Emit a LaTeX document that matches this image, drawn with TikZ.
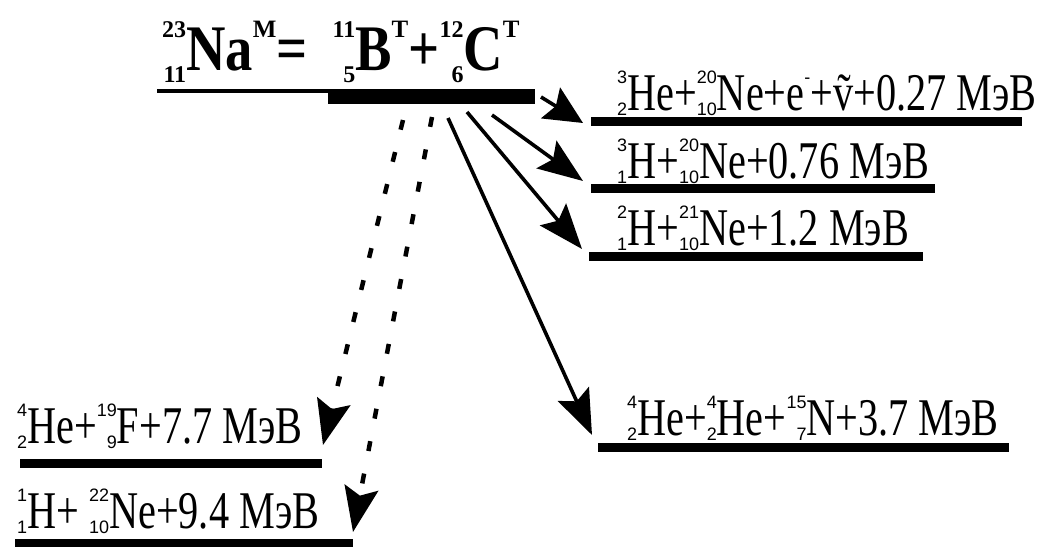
\documentclass[tikz,border=0pt]{standalone}
\usepackage{fontspec}
\setmainfont{Liberation Serif}
\newfontfamily\lvlfont[FakeStretch=0.76]{Liberation Serif}
\newfontfamily\ttlfont[FakeStretch=0.84]{Liberation Serif}
\newfontfamily\tscrfont{Liberation Serif}
\newfontfamily\scrfont{Liberation Sans}
\usetikzlibrary{arrows.meta}

\newcommand\nuc[3]{{\setbox1\hbox{\scrfont\fontsize{18}{18}\selectfont #1}%
 \setbox2\hbox{\scrfont\fontsize{18}{18}\selectfont #2}%
 \ifdim\wd1>\wd2\relax \setbox2\hbox to\wd1{\hfil\unhbox2}\else\setbox1\hbox to\wd2{\hfil\unhbox1}\fi
 \rlap{\raise27pt\box1}\lower5pt\box2}#3}
\newcommand\esup[1]{\raise27pt\hbox{\scrfont\fontsize{18}{18}\selectfont #1}}
\newcommand\tnuc[3]{{\setbox1\hbox{\tscrfont\bfseries\fontsize{24}{24}\selectfont #1}%
 \setbox2\hbox{\tscrfont\bfseries\fontsize{24}{24}\selectfont #2}%
 \ifdim\wd1>\wd2\relax \setbox2\hbox to\wd1{\hfil\unhbox2}\else\setbox1\hbox to\wd2{\hfil\unhbox1}\fi
 \rlap{\raise33pt\box1}\lower12pt\box2}#3}
\newcommand\tsup[1]{\raise33pt\hbox{\tscrfont\bfseries\fontsize{25}{25}\selectfont #1}}

\tikzset{
  bar/.style={rectangle, fill=black, draw=none, inner sep=0pt, outer sep=0pt, minimum height=9pt},
  lvltext/.style={anchor=base west, inner sep=0pt, font=\lvlfont\fontsize{53}{53}\selectfont},
  ttltext/.style={anchor=base west, inner sep=0pt, font=\ttlfont\bfseries\fontsize{65}{65}\selectfont},
  arr/.style={line width=3.6pt, -{Stealth[length=45pt, width=34pt, inset=8pt]}},
  arrshort/.style={line width=3.6pt, -{Stealth[length=38pt, width=36pt, inset=6pt]}},
  darr/.style={line width=4.5pt, dash pattern=on 10pt off 23pt, -{Stealth[length=45pt, width=34pt, inset=8pt]}},
}

\begin{document}
\begin{tikzpicture}[x=1pt, y=-1pt]
\useasboundingbox (0,0) rectangle (1049,546);

% title
\node[ttltext] (title) at (162,70) {\tnuc{23}{11}{Na}\tsup{M}=\hspace{25pt}\tnuc{11}{5}{B}\tsup{T}+\tnuc{12}{6}{C}\tsup{T}};

% initial level
\node[bar, minimum width=171pt, minimum height=4pt] (thin) at (242.5,91) {};
\node[bar, minimum width=207pt, minimum height=15pt] (thick) at (431.5,96.5) {};

% final levels
\node[bar, minimum width=431pt] (L1) at (806.5,121.5) {};
\node[bar, minimum width=344pt] (L2) at (763,188.5) {};
\node[bar, minimum width=334pt] (L3) at (756,256) {};
\node[bar, minimum width=411pt] (L4) at (803.5,447) {};
\node[bar, minimum width=302pt] (LF) at (171,463) {};
\node[bar, minimum width=338pt] (LNe) at (184,543) {};

% labels
\node[lvltext] (t1) at (617,110) {\nuc{3}{2}{He}+\nuc{20}{10}{Ne}+e\esup{-}+\~v+0.27 МэВ};
\node[lvltext] (t2) at (617,178) {\nuc{3}{1}{H}+\nuc{20}{10}{Ne}+0.76 МэВ};
\node[lvltext] (t3) at (617,245) {\nuc{2}{1}{H}+\nuc{21}{10}{Ne}+1.2 МэВ};
\node[lvltext] (t4) at (627,435) {\nuc{4}{2}{He}+\nuc{4}{2}{He}+\nuc{15}{7}{N}+3.7 МэВ};
\node[lvltext] (tF) at (17,443) {\nuc{4}{2}{He}+\nuc{19}{9}{F}+7.7 МэВ};
\node[lvltext] (tNe) at (17,528) {\nuc{1}{1}{H}+ \nuc{22}{10}{Ne}+9.4 МэВ};

% arrow ends
\coordinate (sA) at (541,97);  \coordinate (eA) at (583,123);
\coordinate (sB) at (492,115); \coordinate (eB) at (583,181);
\coordinate (sC) at (467,112); \coordinate (eC) at (582,249);
\coordinate (sD) at (448,118); \coordinate (eD) at (592,435);
\coordinate (sE) at (403,120); \coordinate (eE) at (323,445);
\coordinate (sF) at (432,117); \coordinate (eF) at (353,532);

\draw[arrshort] (sA) -- (eA);
\draw[arr] (sB) -- (eB);
\draw[arr] (sC) -- (eC);
\draw[arr] (sD) -- (eD);
\draw[darr] (sE) -- (eE);
\draw[darr] (sF) -- (eF);
\end{tikzpicture}
\end{document}
